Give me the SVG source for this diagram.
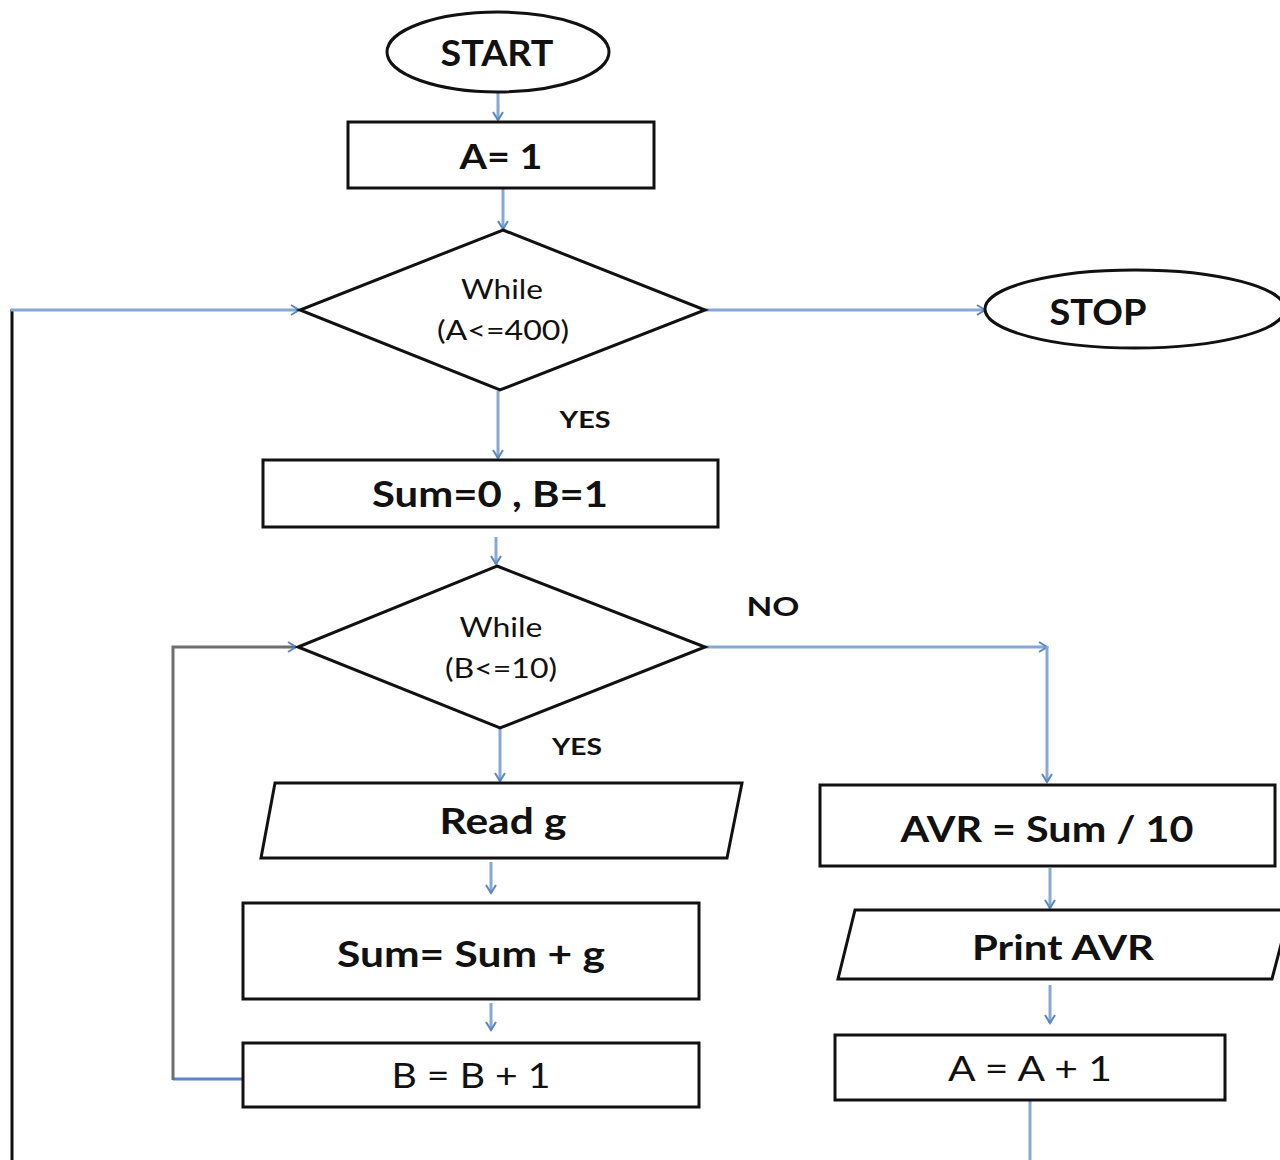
<svg xmlns="http://www.w3.org/2000/svg" width="1280" height="1160" viewBox="0 0 1280 1160">
  <style>
    .shape { fill: #ffffff; stroke: #111111; stroke-width: 3; }
    .flow { fill: none; stroke: #86a8d4; stroke-width: 3; }
    .loop { fill: none; stroke: #6f6f6f; stroke-width: 3; }
    .lbl { font-family: Lato, "Liberation Sans", sans-serif; fill: #111111; text-anchor: middle; }
    .b { font-weight: bold; }
    .big { font-size: 36px; }
    .cond { font-size: 26px; }
    .tag { font-size: 22px; font-weight: bold; }
  </style>
  <defs>
    <marker id="arrow" markerUnits="userSpaceOnUse" markerWidth="14" markerHeight="14" refX="9" refY="6" orient="auto">
      <path d="M1,1 L9,6 L1,11" fill="none" stroke="#5b87c0" stroke-width="2"/>
    </marker>
  </defs>

  <!-- connectors -->
  <g id="connectors">
    <line class="flow" x1="498" y1="92" x2="498" y2="120" marker-end="url(#arrow)"/>
    <line class="flow" x1="503" y1="189" x2="503" y2="229" marker-end="url(#arrow)"/>
    <line class="flow" x1="705" y1="310" x2="985" y2="310" marker-end="url(#arrow)"/>
    <line x1="12" y1="1160" x2="12" y2="309" stroke="#111111" stroke-width="3"/>
    <line class="flow" x1="11" y1="310" x2="299" y2="310" marker-end="url(#arrow)"/>
    <line class="flow" x1="498" y1="391" x2="498" y2="458" marker-end="url(#arrow)"/>
    <line class="flow" x1="496" y1="537" x2="496" y2="564" marker-end="url(#arrow)"/>
    <line class="flow" x1="705" y1="647" x2="1047" y2="647" marker-end="url(#arrow)"/>
    <line class="flow" x1="1047" y1="646" x2="1047" y2="782" marker-end="url(#arrow)"/>
    <line class="flow" x1="500" y1="729" x2="500" y2="781" marker-end="url(#arrow)"/>
    <line class="flow" x1="491" y1="862" x2="491" y2="893" marker-end="url(#arrow)"/>
    <line class="flow" x1="491" y1="1003" x2="491" y2="1030" marker-end="url(#arrow)"/>
    <line x1="243" y1="1079" x2="173" y2="1079" stroke="#5b87c0" stroke-width="3"/>
    <polyline class="loop" points="173,1080 173,647 296,647" marker-end="url(#arrow)"/>
    <line class="flow" x1="1050" y1="868" x2="1050" y2="908" marker-end="url(#arrow)"/>
    <line class="flow" x1="1050" y1="985" x2="1050" y2="1023" marker-end="url(#arrow)"/>
    <line class="flow" x1="1030" y1="1100" x2="1030" y2="1160" stroke-width="4"/>
  </g>

  <!-- nodes -->
  <g id="start">
    <ellipse class="shape" cx="498" cy="52" rx="111" ry="40"/>
    <text class="lbl b big" x="497" y="66" textLength="113" lengthAdjust="spacingAndGlyphs">START</text>
  </g>
  <g id="init-a">
    <rect class="shape" x="348" y="122" width="306" height="66"/>
    <text class="lbl b" font-size="34" x="501" y="169" textLength="83" lengthAdjust="spacingAndGlyphs">A= 1</text>
  </g>
  <g id="while-a">
    <polygon class="shape" points="503,230 705,310 500,390 300,310"/>
    <text class="lbl cond" x="502" y="299" textLength="82" lengthAdjust="spacingAndGlyphs">While</text>
    <text class="lbl cond" x="503" y="340" textLength="132" lengthAdjust="spacingAndGlyphs">(A&lt;=400)</text>
  </g>
  <g id="stop">
    <ellipse class="shape" cx="1135" cy="309" rx="150" ry="39"/>
    <text class="lbl b big" x="1098" y="325" textLength="97" lengthAdjust="spacingAndGlyphs">STOP</text>
  </g>
  <g id="yes-a">
    <text class="lbl tag" x="585" y="428" textLength="51" lengthAdjust="spacingAndGlyphs">YES</text>
  </g>
  <g id="init-sum">
    <rect class="shape" x="263" y="460" width="455" height="67"/>
    <text class="lbl b big" x="490" y="507" textLength="236" lengthAdjust="spacingAndGlyphs">Sum=0 , B=1</text>
  </g>
  <g id="while-b">
    <polygon class="shape" points="497,566 705,647 500,728 298,647"/>
    <text class="lbl cond" x="501" y="637" textLength="83" lengthAdjust="spacingAndGlyphs">While</text>
    <text class="lbl cond" x="501" y="678" textLength="112" lengthAdjust="spacingAndGlyphs">(B&lt;=10)</text>
  </g>
  <g id="no-b">
    <text class="lbl b" font-size="27" x="773" y="616" textLength="53" lengthAdjust="spacingAndGlyphs">NO</text>
  </g>
  <g id="yes-b">
    <text class="lbl tag" x="577" y="755" textLength="50" lengthAdjust="spacingAndGlyphs">YES</text>
  </g>
  <g id="read-g">
    <polygon class="shape" points="275,783 742,783 727,858 261,858"/>
    <text class="lbl b big" x="503" y="834" textLength="127" lengthAdjust="spacingAndGlyphs">Read g</text>
  </g>
  <g id="add-g">
    <rect class="shape" x="243" y="903" width="456" height="96"/>
    <text class="lbl b big" x="471" y="967" textLength="268" lengthAdjust="spacingAndGlyphs">Sum= Sum + g</text>
  </g>
  <g id="inc-b">
    <rect class="shape" x="243" y="1043" width="456" height="64"/>
    <text class="lbl" font-size="34" x="471" y="1088" textLength="159" lengthAdjust="spacingAndGlyphs">B = B + 1</text>
  </g>
  <g id="avr">
    <rect class="shape" x="820" y="785" width="455" height="81"/>
    <text class="lbl b big" x="1047" y="842" textLength="293" lengthAdjust="spacingAndGlyphs">AVR = Sum / 10</text>
  </g>
  <g id="print-avr">
    <polygon class="shape" points="855,910 1290,910 1272,979 838,979"/>
    <text class="lbl b" font-size="34" x="1063" y="960" textLength="182" lengthAdjust="spacingAndGlyphs">Print AVR</text>
  </g>
  <g id="inc-a">
    <rect class="shape" x="835" y="1035" width="390" height="65"/>
    <text class="lbl" font-size="34" x="1030" y="1081" textLength="164" lengthAdjust="spacingAndGlyphs">A = A + 1</text>
  </g>
</svg>
